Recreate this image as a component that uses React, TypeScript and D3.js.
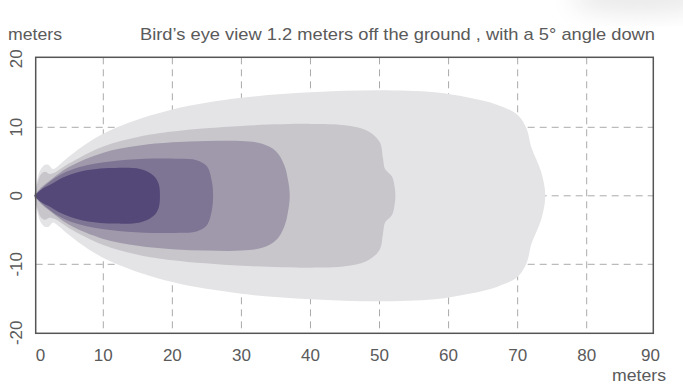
import React from "react";
import * as d3 from "d3";

// Upper half-profiles [x meters, half-width meters] of each coverage zone (mirrored below y=0)
const zone1: [number, number][] = [
  [0, 0], [0.4, 2.2], [0.9, 3.8], [1.5, 4.5], [2.1, 4.5], [2.7, 3.9], [3.5, 4.4], [5, 5.7],
  [8, 7.9], [12, 10], [20, 12.6], [30, 14.3], [40, 15.1], [50, 15.4], [58, 15.1],
  [63, 14.3], [67, 13.3], [70, 11.8], [71.3, 9.8], [72, 7], [73.4, 3.5], [74, 0],
];
const zone2: [number, number][] = [
  [0, 0], [0.5, 2.0], [1.0, 3.2], [1.6, 3.5], [2.2, 3.2], [3, 3.4], [5, 4.7],
  [10, 7.2], [15, 8.6], [20, 9.4], [30, 10.2], [40, 10.5], [45, 10.3], [48, 9.6],
  [50, 7.9], [50.5, 5.5], [50.8, 3.9], [51.8, 2.8], [52.2, 1.2], [52.3, 0],
];
const zone3: [number, number][] = [
  [0, 0], [1, 1.2], [2.5, 2.4], [5, 4.2], [10, 6.3], [15, 7.3], [20, 7.8], [25, 8.0],
  [30, 8.0], [33, 7.6], [35, 6.5], [36.2, 4.5], [36.8, 2], [37, 0],
];
const zone4: [number, number][] = [
  [0, 0], [1, 1], [2.3, 2.1], [4, 3.2], [6.6, 4.2], [11, 5.0], [16, 5.4], [21, 5.4],
  [23.5, 5.2], [25, 4.3], [25.7, 2.2], [25.9, 0],
];
const zone5: [number, number][] = [
  [0, 0], [1, 0.9], [2.3, 1.6], [4, 2.6], [6.6, 3.5], [9, 3.9], [11.4, 4.05],
  [15.3, 3.9], [17.2, 3.0], [18, 1.8], [18.2, 0],
];
const zones = [zone1, zone2, zone3, zone4, zone5];
const zoneColors = ["#e4e4e6", "#c8c6cb", "#9f99ab", "#7d7593", "#534878"];

const xTicks = [0, 10, 20, 30, 40, 50, 60, 70, 80, 90];
const yTicks = [-20, -10, 0, 10, 20];
const titleText = "Bird\u2019s eye view 1.2 meters off the ground , with a 5\u00b0 angle down";
const unitLabel = "meters";

export default function App() {
  const W = 683, H = 390;
  const frame = { left: 35.7, right: 653.3, top: 57.3, bottom: 333.3 };
  const x = d3.scaleLinear().domain([10, 80]).range([103.3, 586.7]);
  const y = d3.scaleLinear().domain([-10, 10]).range([264.3, 127.3]);
  const line = d3
    .line<[number, number]>()
    .x((d) => x(d[0]))
    .y((d) => y(d[1]))
    .curve(d3.curveCatmullRom.alpha(0.5));
  const fullPath = (half: [number, number][]) => {
    const lower = half.slice(0, -1).reverse().map((p) => [p[0], -p[1]] as [number, number]);
    return line([...half, ...lower]) + "Z";
  };
  const textColor = "#5a5a5a";
  const font = "'Liberation Sans', Arial, sans-serif";
  return (
    <svg width={W} height={H} style={{ position: "absolute", left: 0, top: 0 }} fontFamily={font}>
      <defs>
        <filter id="blur" x="-50%" y="-50%" width="200%" height="200%">
          <feGaussianBlur stdDeviation="12" />
        </filter>
      </defs>
      <rect width={W} height={H} fill="#fff" />
      <ellipse cx={640} cy={-2} rx={70} ry={14} fill="#e6e6e6" filter="url(#blur)" />
      {xTicks.slice(1, -1).map((t) => (
        <line key={"gx" + t} x1={x(t)} x2={x(t)} y1={frame.top} y2={frame.bottom}
          stroke="#aaa" strokeWidth={1} strokeDasharray="7,5" />
      ))}
      {yTicks.slice(1, -1).map((t) => (
        <line key={"gy" + t} x1={frame.left} x2={frame.right} y1={y(t)} y2={y(t)}
          stroke="#aaa" strokeWidth={1} strokeDasharray="7,5" />
      ))}
      {zones.map((z, i) => (
        <path key={"z" + i} d={fullPath(z)} fill={zoneColors[i]} stroke="none" />
      ))}
      <rect x={frame.left} y={frame.top} width={frame.right - frame.left}
        height={frame.bottom - frame.top} fill="none" stroke="#555" strokeWidth={1.5} />
      {xTicks.map((t, i) => {
        let anchor: "start" | "middle" | "end" = "middle";
        let px = x(t);
        if (i === 0) { anchor = "start"; px = frame.left; }
        if (i === xTicks.length - 1) { anchor = "end"; px = 660; }
        return (
          <text key={"xl" + t} x={px} y={361} textAnchor={anchor} fontSize={17} fill={textColor}>
            {t}
          </text>
        );
      })}
      {yTicks.map((t) => (
        <text key={"yl" + t} transform={`translate(22,${y(t)}) rotate(-90)`} textAnchor="middle"
          fontSize={17} fill={textColor}>
          {t}
        </text>
      ))}
      <text x={8} y={40} fontSize={17} fill={textColor} textLength={54} lengthAdjust="spacingAndGlyphs">{unitLabel}</text>
      <text x={140} y={40} fontSize={17} fill={textColor} textLength={515} lengthAdjust="spacingAndGlyphs">{titleText}</text>
      <text x={612} y={381} fontSize={17} fill={textColor} textLength={54} lengthAdjust="spacingAndGlyphs">{unitLabel}</text>
    </svg>
  );
}
